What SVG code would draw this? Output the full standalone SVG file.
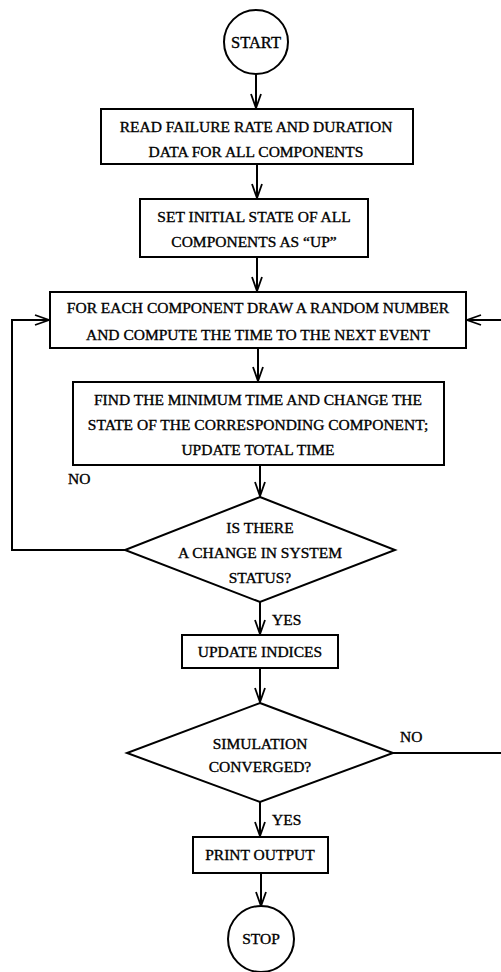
<svg xmlns="http://www.w3.org/2000/svg" width="501" height="972" viewBox="0 0 501 972">
<defs>
<marker id="arr" markerUnits="userSpaceOnUse" markerWidth="20" markerHeight="14" viewBox="-16 -7 18 14" refX="0" refY="0" orient="auto" overflow="visible">
<path d="M-14,-5 L0,0 L-14,5" fill="none" stroke="#000" stroke-width="1.8"/>
</marker>
</defs>
<style>
.shape{fill:#fff;stroke:#000;stroke-width:2}
.t{font-family:"Liberation Serif","Times New Roman",serif;font-size:15.5px;fill:#000;stroke:#000;stroke-width:0.35;text-anchor:middle}
.lbl{font-family:"Liberation Serif","Times New Roman",serif;font-size:15.5px;fill:#000;stroke:#000;stroke-width:0.35}
.big{font-size:16.5px}
.c{fill:none;stroke:#000;stroke-width:2}
</style>
<rect width="501" height="972" fill="#fff"/>
<g id="connectors">
<line class="c" x1="256" y1="74" x2="256" y2="108" marker-end="url(#arr)"/>
<line class="c" x1="257" y1="164" x2="257" y2="198" marker-end="url(#arr)"/>
<line class="c" x1="257" y1="257" x2="257" y2="291" marker-end="url(#arr)"/>
<line class="c" x1="258" y1="348" x2="258" y2="381" marker-end="url(#arr)"/>
<line class="c" x1="260" y1="465" x2="260" y2="496" marker-end="url(#arr)"/>
<line class="c" x1="260" y1="602" x2="260" y2="634" marker-end="url(#arr)"/>
<line class="c" x1="260" y1="668" x2="260" y2="702" marker-end="url(#arr)"/>
<line class="c" x1="260" y1="802" x2="260" y2="836" marker-end="url(#arr)"/>
<line class="c" x1="261" y1="873" x2="261" y2="906" marker-end="url(#arr)"/>
<polyline class="c" points="125,550 12,550 12,320 49,320" marker-end="url(#arr)"/>
<polyline class="c" points="393,753 504,753 504,320 467,320" marker-end="url(#arr)"/>
<text class="lbl" x="68" y="484">NO</text>
<text class="lbl" x="272" y="625">YES</text>
<text class="lbl" x="400" y="742">NO</text>
<text class="lbl" x="272" y="825">YES</text>
</g>
<g id="start">
<circle class="shape" cx="256" cy="42" r="32"/>
<text class="t big" x="256" y="48">START</text>
</g>
<g id="read">
<rect class="shape" x="101" y="109" width="312" height="55"/>
<text class="t" x="256" y="132">READ FAILURE RATE AND DURATION</text>
<text class="t" x="256" y="157">DATA FOR ALL COMPONENTS</text>
</g>
<g id="init">
<rect class="shape" x="140" y="199" width="228" height="58"/>
<text class="t" x="254" y="222">SET INITIAL STATE OF ALL</text>
<text class="t" x="254" y="247">COMPONENTS AS “UP”</text>
</g>
<g id="draw">
<rect class="shape" x="50" y="292" width="416" height="56"/>
<text class="t" x="258" y="313">FOR EACH COMPONENT DRAW A RANDOM NUMBER</text>
<text class="t" x="258" y="340">AND COMPUTE THE TIME TO THE NEXT EVENT</text>
</g>
<g id="findmin">
<rect class="shape" x="73" y="382" width="371" height="83"/>
<text class="t" x="258" y="405">FIND THE MINIMUM TIME AND CHANGE THE</text>
<text class="t" x="258" y="430">STATE OF THE CORRESPONDING COMPONENT;</text>
<text class="t" x="258" y="455">UPDATE TOTAL TIME</text>
</g>
<g id="change">
<polygon class="shape" points="260,497 395,550 260,602 125,550"/>
<text class="t" x="260" y="533">IS THERE</text>
<text class="t" x="260" y="558">A CHANGE IN SYSTEM</text>
<text class="t" x="260" y="583">STATUS?</text>
</g>
<g id="indices">
<rect class="shape" x="182" y="635" width="156" height="33"/>
<text class="t" x="260" y="657">UPDATE INDICES</text>
</g>
<g id="converged">
<polygon class="shape" points="260,703 393,753 260,802 127,753"/>
<text class="t" x="260" y="749">SIMULATION</text>
<text class="t" x="260" y="772">CONVERGED?</text>
</g>
<g id="print">
<rect class="shape" x="193" y="837" width="135" height="36"/>
<text class="t" x="260" y="860">PRINT OUTPUT</text>
</g>
<g id="stop">
<circle class="shape" cx="261" cy="939" r="33"/>
<text class="t" x="261" y="944">STOP</text>
</g>
</svg>
